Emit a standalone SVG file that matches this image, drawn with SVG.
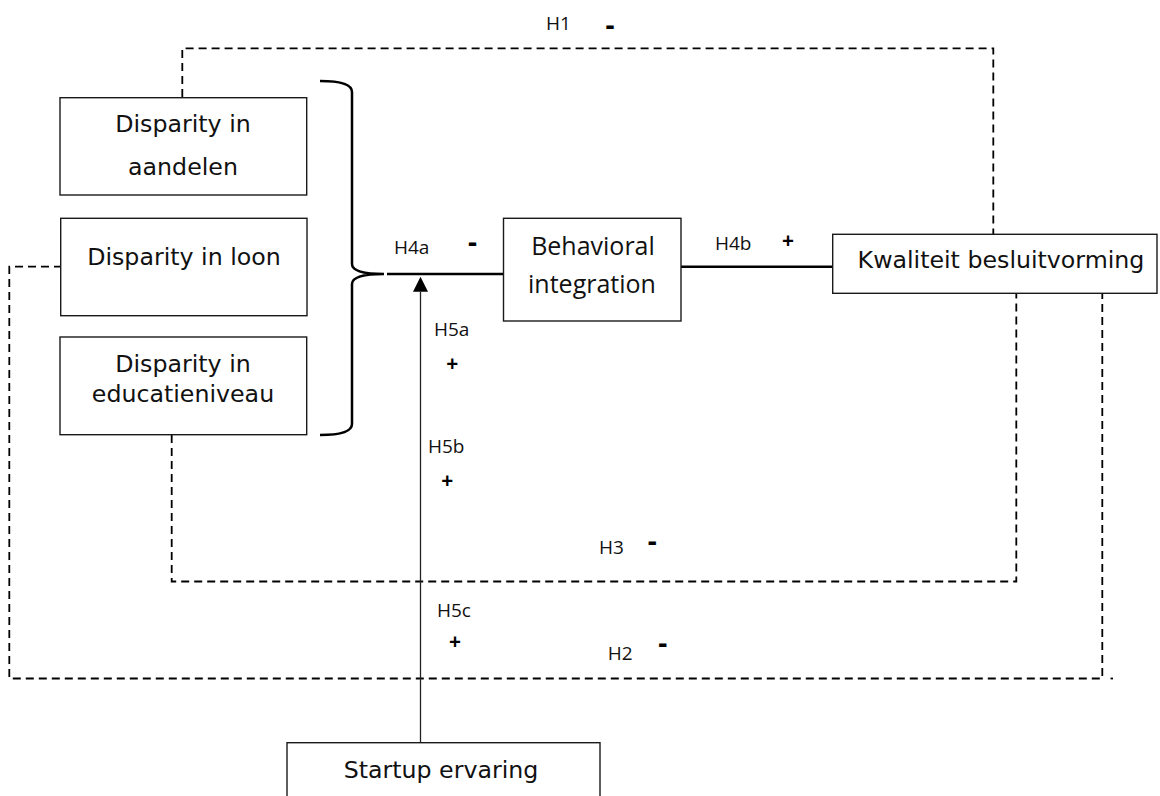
<svg xmlns="http://www.w3.org/2000/svg" width="1160" height="796" viewBox="0 0 1160 796">
  <style>
    .box { fill: #ffffff; stroke: #1a1a1a; stroke-width: 1.4; }
    .bt { font-family: "DejaVu Sans", Verdana, sans-serif; font-size: 23.7px; fill: #111; text-anchor: middle; }
    .bi { font-family: "Open Sans", sans-serif; font-size: 25px; fill: #111; text-anchor: middle; }
    .lbl { font-family: "Open Sans", sans-serif; font-size: 19px; fill: #111; }
    .plus { font-family: "Open Sans", sans-serif; font-size: 21px; font-weight: bold; fill: #000; text-anchor: middle; }
    .minus { font-family: "Open Sans", sans-serif; font-size: 28px; font-weight: bold; fill: #000; text-anchor: middle; }
    .dash { fill: none; stroke: #000; stroke-width: 1.8; stroke-dasharray: 8 5; }
    .solid { fill: none; stroke: #000; stroke-width: 2.5; }
    .thin { fill: none; stroke: #222; stroke-width: 1.3; }
  </style>
  <defs>
    <marker id="arrow" markerUnits="userSpaceOnUse" markerWidth="15" markerHeight="15" viewBox="0 0 15 15" refX="0" refY="7.5" orient="auto">
      <path d="M0,0 L15,7.5 L0,15 z" fill="#000"/>
    </marker>
  </defs>

  <g id="connectors">
    <!-- H1 -->
    <polyline class="dash" points="182.3,97 182.3,48.3 993.3,48.3 993.3,234"/>
    <!-- H2 -->
    <polyline class="dash" points="62,266.7 9.3,266.7 9.3,678.5 1102.3,678.5 1102.3,293.5"/>
    <line class="dash" x1="1110.5" y1="678.5" x2="1113" y2="678.5"/>
    <!-- H3 -->
    <polyline class="dash" points="171.7,435 171.7,581.5 1016.3,581.5 1016.3,293.5"/>
    <!-- brace -->
    <path class="solid" d="M320,81 Q352,81 352,92 L352,264 Q352,274 384,274 Q352,274 352,284 L352,424 Q352,435 320,435"/>
    <!-- H4a -->
    <line class="solid" x1="387" y1="274" x2="503.5" y2="274"/>
    <!-- H4b -->
    <line class="solid" x1="681" y1="266.7" x2="833" y2="266.7"/>
    <!-- moderator arrow -->
    <line class="thin" x1="420.5" y1="743" x2="420.5" y2="291.7" marker-end="url(#arrow)"/>
  </g>

  <g id="labels">
    <text class="lbl" x="546" y="29.5">H1</text>
    <text class="minus" x="610" y="35">-</text>
    <text class="lbl" x="394" y="254">H4a</text>
    <text class="minus" x="472.5" y="252">-</text>
    <text class="lbl" x="715" y="250">H4b</text>
    <text class="plus" x="788" y="248">+</text>
    <text class="lbl" x="434" y="336">H5a</text>
    <text class="plus" x="452.3" y="370.5">+</text>
    <text class="lbl" x="428" y="453.3">H5b</text>
    <text class="plus" x="447.3" y="488">+</text>
    <text class="lbl" x="437" y="616.7">H5c</text>
    <text class="plus" x="455" y="649">+</text>
    <text class="lbl" x="599" y="554">H3</text>
    <text class="minus" x="652.3" y="551">-</text>
    <text class="lbl" x="607.7" y="660">H2</text>
    <text class="minus" x="662.7" y="653">-</text>
  </g>

  <g id="node-aandelen">
    <rect class="box" x="60" y="97.7" width="246.7" height="97.3"/>
    <text class="bt" x="183" y="132">Disparity in</text>
    <text class="bt" x="183" y="175">aandelen</text>
  </g>

  <g id="node-loon">
    <rect class="box" x="60.7" y="218.3" width="246.3" height="97.4"/>
    <text class="bt" x="184" y="265">Disparity in loon</text>
  </g>

  <g id="node-educatie">
    <rect class="box" x="60" y="337" width="246.7" height="97.7"/>
    <text class="bt" x="183" y="372">Disparity in</text>
    <text class="bt" x="183" y="402">educatieniveau</text>
  </g>

  <g id="node-behavioral">
    <rect class="box" x="503.5" y="218.3" width="177.5" height="102.7"/>
    <text class="bi" x="593" y="255">Behavioral</text>
    <text class="bi" x="592" y="293">integration</text>
  </g>

  <g id="node-kwaliteit">
    <rect class="box" x="832.7" y="234.3" width="324.3" height="59"/>
    <text class="bt" x="1001" y="268">Kwaliteit besluitvorming</text>
  </g>

  <g id="node-startup">
    <rect class="box" x="287" y="742.7" width="313" height="70"/>
    <text class="bt" x="441" y="778">Startup ervaring</text>
  </g>
</svg>
